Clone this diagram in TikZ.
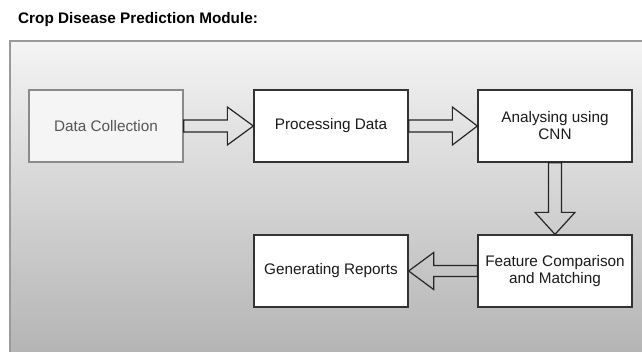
\documentclass[tikz,border=0pt]{standalone}
\usepackage{fontspec}
\setmainfont{Liberation Sans}
\usetikzlibrary{calc}
\definecolor{panelborder}{HTML}{9A9A9A}
\definecolor{boxline}{HTML}{333333}
\definecolor{dimline}{HTML}{8A8A8A}
\definecolor{dimfill}{HTML}{F5F5F5}
\definecolor{dimtext}{HTML}{555555}
\definecolor{maintext}{HTML}{1A1A1A}
\definecolor{gradtop}{HTML}{F4F4F4}
\definecolor{gradbot}{HTML}{B3B3B3}
\tikzset{
  stepbox/.style={draw=boxline, line width=1.3pt, fill=white, rectangle,
    minimum width=154pt, minimum height=72pt, inner sep=0pt, align=center,
    text=maintext, font=\fontsize{15.3}{17}\selectfont},
  dimbox/.style={stepbox, draw=dimline, fill=dimfill, text=dimtext},
  blockarrow/.style={draw=black!85, line width=1.2pt, line join=miter},
  titletext/.style={font=\bfseries\fontsize{15.3}{18}\selectfont, anchor=base west, inner sep=0pt, text=black}
}
\begin{document}
\begin{tikzpicture}[x=1pt, y=-1pt]
\useasboundingbox (0,0) rectangle (642,351);
\clip (0,0) rectangle (642,351);
\fill[white] (0,0) rectangle (642,351);
% panel
\shade[top color=gradtop, bottom color=gradbot] (10,41) rectangle (650,360);
\draw[panelborder, line width=1.5pt] (10,360) -- (10,41) -- (650,41);
% title
\node[titletext] (title) at (18,23) {Crop Disease Prediction Module:};
% boxes
\node[dimbox] (dc) at (106,126) {Data Collection};
\node[stepbox] (pd) at (331,126) {Processing Data};
\node[stepbox] (cnn) at (555,126) {Analysing using\\CNN};
\node[stepbox] (fc) at (555,271) {Feature Comparison\\and Matching};
\node[stepbox] (gr) at (331,271) {Generating Reports};
% arrows
\draw[blockarrow] ($(dc.east)+(0,-6)$) -- ($(pd.west)+(-26,-6)$) -- ($(pd.west)+(-26,-19)$) -- (pd.west)
  -- ($(pd.west)+(-26,19)$) -- ($(pd.west)+(-26,6)$) -- ($(dc.east)+(0,6)$) -- cycle;
\draw[blockarrow] ($(pd.east)+(0,-6)$) -- ($(cnn.west)+(-25,-6)$) -- ($(cnn.west)+(-25,-19)$) -- (cnn.west)
  -- ($(cnn.west)+(-25,19)$) -- ($(cnn.west)+(-25,6)$) -- ($(pd.east)+(0,6)$) -- cycle;
\draw[blockarrow] ($(cnn.south)+(-6.5,0)$) -- ($(fc.north)+(-6.5,-22)$) -- ($(fc.north)+(-20,-22)$) -- (fc.north)
  -- ($(fc.north)+(20,-22)$) -- ($(fc.north)+(6.5,-22)$) -- ($(cnn.south)+(6.5,0)$) -- cycle;
\draw[blockarrow] ($(fc.west)+(0,-5.5)$) -- ($(gr.east)+(25,-5.5)$) -- ($(gr.east)+(25,-18.5)$) -- (gr.east)
  -- ($(gr.east)+(25,18.5)$) -- ($(gr.east)+(25,5.5)$) -- ($(fc.west)+(0,5.5)$) -- cycle;
\end{tikzpicture}
\end{document}
